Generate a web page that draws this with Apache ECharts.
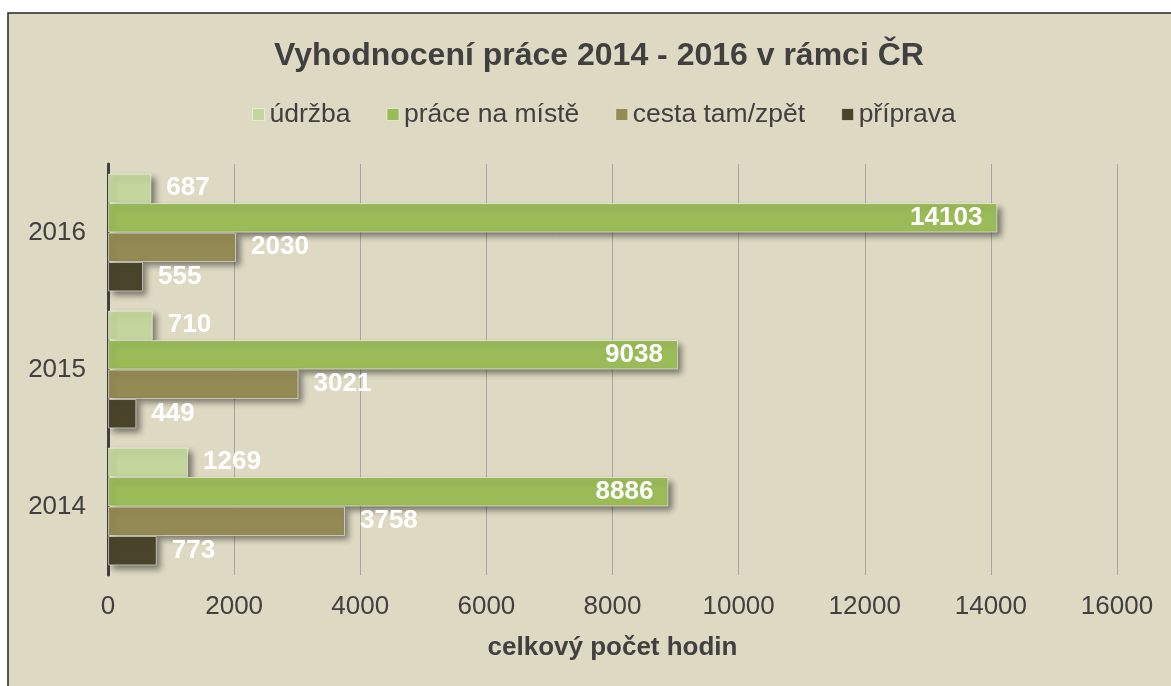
<!DOCTYPE html>
<html>
<head>
<meta charset="utf-8">
<script src="https://cdn.jsdelivr.net/npm/echarts@6/dist/echarts.min.js"></script>
<style>
  html, body { margin: 0; padding: 0; background: #ffffff; }
  #chart { width: 1171px; height: 686px; }
</style>
</head>
<body>
<div id="chart"></div>
<script>
// roky (zdola nahoru)
const years = ['2014', '2015', '2016'];

// hodiny podle druhu práce, pořadí = years
const udrzba = [1269, 710, 687];
const praceNaMiste = [8886, 9038, 14103];
const cesta = [3758, 3021, 2030];
const priprava = [773, 449, 555];

const seriesNames = ['údržba', 'práce na místě', 'cesta tam/zpět', 'příprava'];
const colors = ['#c3d69b', '#9bbb59', '#948a54', '#4a452a'];

const font = "'Liberation Sans', Arial, sans-serif";
const textColor = '#404040';

function makeSeries(name, data, color, inside) {
    return {
        name: name,
        type: 'bar',
        data: data,
        barGap: '0%',
        barCategoryGap: '14%',
        itemStyle: {
            color: color,
            borderColor: 'rgba(255,255,255,0.55)',
            borderWidth: 1,
            shadowColor: 'rgba(0,0,0,0.45)',
            shadowBlur: 6,
            shadowOffsetX: 4,
            shadowOffsetY: 4
        },
        label: {
            show: true,
            position: inside ? 'insideRight' : 'right',
            distance: 15,
            color: '#ffffff',
            fontFamily: font,
            fontWeight: 'bold',
            fontSize: 26
        }
    };
}

const chart = echarts.init(document.getElementById('chart'));
chart.setOption({
    animation: false,
    backgroundColor: '#ffffff',
    graphic: [{
        type: 'rect',
        z: -10,
        shape: { x: 8, y: 13, width: 1200, height: 700 },
        style: { fill: '#ddd9c3', stroke: '#262626', lineWidth: 1.5 }
    }],
    title: {
        text: 'Vyhodnocení práce 2014 - 2016 v rámci ČR',
        left: 594,
        textAlign: 'center',
        top: 35,
        textStyle: { fontFamily: font, fontSize: 32, fontWeight: 'bold', color: textColor }
    },
    legend: {
        data: seriesNames,
        left: 247,
        top: 96,
        icon: 'rect',
        itemWidth: 12,
        itemHeight: 12,
        itemGap: 36,
        textStyle: { fontFamily: font, fontSize: 26.5, color: textColor },
        itemStyle: { borderColor: 'rgba(255,255,255,0.5)', borderWidth: 1, shadowBlur: 0, shadowOffsetX: 0, shadowOffsetY: 0 }
    },
    grid: { left: 108, right: 54, top: 164, bottom: 111, containLabel: false },
    xAxis: {
        type: 'value',
        min: 0,
        max: 16000,
        interval: 2000,
        name: 'celkový počet hodin',
        nameLocation: 'middle',
        nameGap: 60,
        nameTextStyle: { fontFamily: font, fontSize: 26, fontWeight: 'bold', color: textColor },
        axisLine: { show: false },
        axisTick: { show: false },
        axisLabel: { fontFamily: font, fontSize: 26, color: textColor, margin: 19, formatter: (v) => String(v) },
        splitLine: { show: true, lineStyle: { color: '#a6a6a6', width: 1 } }
    },
    yAxis: {
        type: 'category',
        data: years,
        axisLine: { show: true, lineStyle: { color: '#404040', width: 3 } },
        axisTick: { show: false },
        axisLabel: { fontFamily: font, fontSize: 26, color: textColor, margin: 22 }
    },
    series: [
        makeSeries(seriesNames[0], udrzba, colors[0], false),
        makeSeries(seriesNames[1], praceNaMiste, colors[1], true),
        makeSeries(seriesNames[2], cesta, colors[2], false),
        makeSeries(seriesNames[3], priprava, colors[3], false)
    ]
});
</script>
</body>
</html>
